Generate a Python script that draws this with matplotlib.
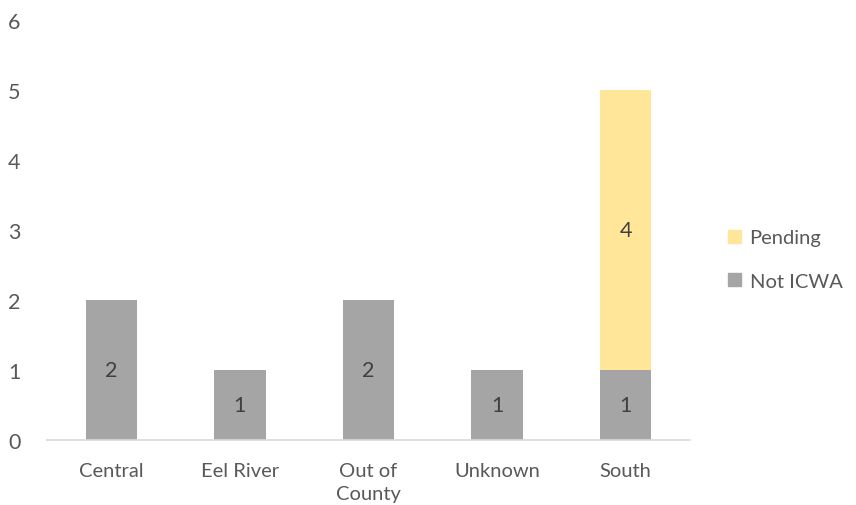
import matplotlib
matplotlib.use("Agg")
import matplotlib.pyplot as plt
from matplotlib.patches import Patch

categories = ["Central", "Eel River", "Out of\nCounty", "Unknown", "South"]
not_icwa = [2, 1, 2, 1, 1]
pending = [0, 0, 0, 0, 4]

gray = "#A5A5A5"
yellow = "#FFE699"
txt = "#595959"
plt.rcParams['font.family'] = ['Lato', 'DejaVu Sans']
fs = 14.5

fig = plt.figure(figsize=(8.56, 5.06), dpi=100)
ax = fig.add_axes([0.055, 0.1285, 0.751, 0.83])
x = list(range(len(categories)))
w = 0.4
ax.bar(x, not_icwa, width=w, color=gray, zorder=2)
ax.bar(x, pending, width=w, bottom=not_icwa, color=yellow, zorder=2)

for i in x:
    if not_icwa[i]:
        ax.text(i, not_icwa[i] / 2, str(not_icwa[i]), ha="center", va="center", fontsize=fs + 1, color="#404040")
    if pending[i]:
        ax.text(i, not_icwa[i] + pending[i] / 2, str(pending[i]), ha="center", va="center", fontsize=fs + 1, color="#404040")

ax.set_xlim(-0.5, 4.5)
ax.set_ylim(0, 6)
ax.set_yticks(range(7))
ax.set_xticks(x)
ax.set_xticklabels(categories, fontsize=fs, color=txt, linespacing=1.4)
ax.tick_params(axis="y", labelsize=fs + 1, labelcolor=txt, length=0, pad=19)
ax.tick_params(axis="x", length=0, pad=16)
for s in ["top", "right", "left"]:
    ax.spines[s].set_visible(False)
ax.spines["bottom"].set_color("#D9D9D9")
ax.spines["bottom"].set_linewidth(1.2)

handles = [Patch(color=yellow, label="Pending"), Patch(color=gray, label="Not ICWA")]
fig.legend(handles=handles, loc="center left", bbox_to_anchor=(0.851, 0.485), frameon=False,
           fontsize=fs, labelcolor=txt, handlelength=0.6, handleheight=0.6, handletextpad=0.45,
           labelspacing=1.3, borderaxespad=0, borderpad=0)

fig.savefig("out.png", dpi=100)
